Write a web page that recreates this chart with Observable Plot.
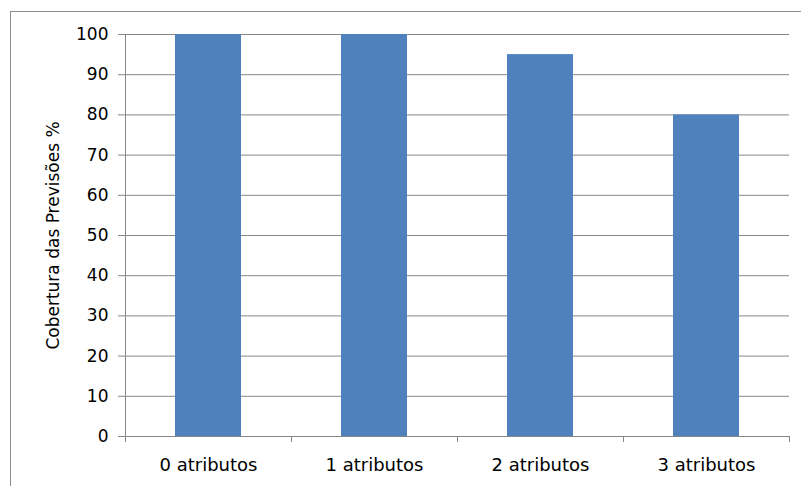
<!DOCTYPE html>
<html>
<head>
<meta charset="utf-8">
<script src="https://cdn.jsdelivr.net/npm/d3@7"></script>
<script src="https://cdn.jsdelivr.net/npm/@observablehq/plot@0.6"></script>
<style>
  html, body { margin: 0; padding: 0; background: #fff; }
  #wrap { position: relative; width: 801px; height: 486px; overflow: hidden; }
  #border { position: absolute; left: 10px; top: 11px; width: 900px; height: 600px;
            border-left: 1px solid #8c8c8c; border-top: 1px solid #8c8c8c; }
  #chart { position: absolute; left: 0; top: 0; }
</style>
</head>
<body>
<div id="wrap"><div id="border"></div><div id="chart"></div></div>
<script>
const categories = ["0 atributos", "1 atributos", "2 atributos", "3 atributos"];
const values = [100, 100, 95, 80];
const yTicks = [0, 10, 20, 30, 40, 50, 60, 70, 80, 90, 100];
const yLabel = "Cobertura das Previsões %";

const data = categories.map((c, i) => ({cat: c, value: values[i]}));
const gray = "#868686";
const font = "'DejaVu Sans', Verdana, sans-serif";

const chart = Plot.plot({
  width: 801,
  height: 486,
  marginLeft: 125,
  marginRight: 12,
  marginTop: 34,
  marginBottom: 50,
  style: {fontFamily: font, color: "#000", background: "transparent"},
  x: {domain: categories, paddingInner: 0.6, paddingOuter: 0.3, axis: null},
  y: {domain: [0, 100], axis: null},
  marks: [
    Plot.gridY(yTicks, {stroke: gray, strokeOpacity: 1}),
    Plot.barY(data, {x: "cat", y: "value", fill: "#4F81BD"}),
    Plot.axisY(yTicks, {tickSize: 7, tickPadding: 10, stroke: gray, strokeOpacity: 1, label: null, fill: "#000", fontSize: 17}),
    Plot.frame({anchor: "left", stroke: gray}),
    Plot.frame({anchor: "bottom", stroke: gray}),
    Plot.ruleX(categories, {x: d => d, dx: -83, y1: 0, y2: -1.5, stroke: gray}),
    Plot.ruleX(categories.slice(-1), {x: d => d, dx: 83, y1: 0, y2: -1.5, stroke: gray}),
    Plot.axisX(categories, {tickSize: 0, tickPadding: 22, label: null, fill: "#000", fontSize: 18}),
    Plot.text([yLabel], {text: d => d, frameAnchor: "left", textAnchor: "middle", rotate: -90, dx: -72, fill: "#000", fontSize: 17})
  ]
});
document.getElementById("chart").appendChild(chart);
</script>
</body>
</html>
